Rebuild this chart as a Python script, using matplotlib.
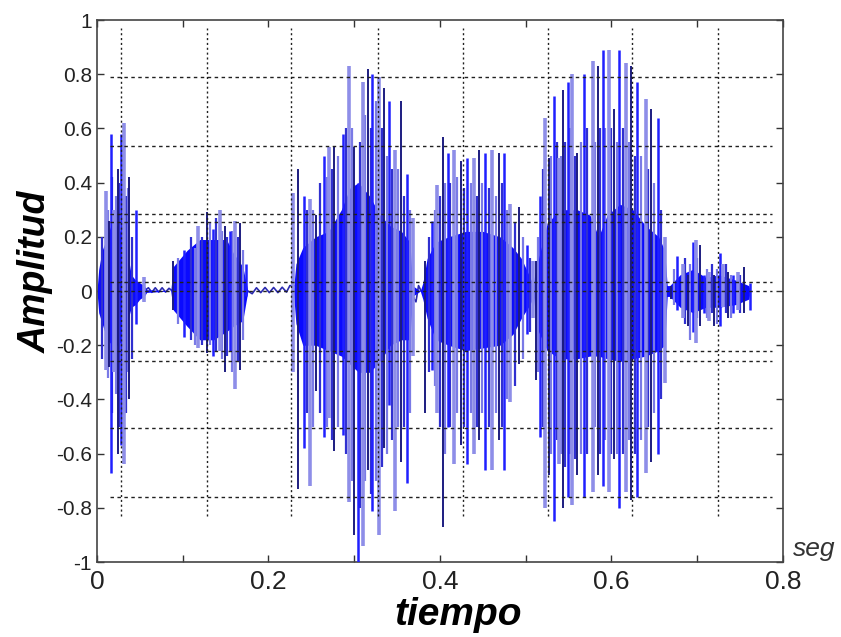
import numpy as np
import matplotlib
matplotlib.use("Agg")
import matplotlib.pyplot as plt

# --- data ----------------------------------------------------------------
# dense core of each voiced stretch: time, upper edge, lower edge
core_t = [0.000, 0.002, 0.006, 0.012, 0.018, 0.024, 0.030, 0.035, 0.040, 0.045, 0.050, 0.055, 0.058,
          0.086, 0.089, 0.105, 0.120, 0.136, 0.151, 0.159, 0.170, 0.176,
          0.229, 0.232, 0.240, 0.255, 0.270, 0.285, 0.295, 0.305, 0.318, 0.330, 0.342, 0.355, 0.365, 0.368,
          0.377, 0.380, 0.385, 0.395, 0.410, 0.430, 0.450, 0.470, 0.485, 0.495, 0.505, 0.509,
          0.510, 0.515, 0.525, 0.540, 0.560, 0.575, 0.585, 0.595, 0.610, 0.625, 0.640, 0.655, 0.662, 0.665,
          0.668, 0.680, 0.695, 0.710, 0.725, 0.745, 0.760, 0.762]
core_top = [0.0, 0.08, 0.15, 0.20, 0.26, 0.24, 0.20, 0.15, 0.06, 0.04, 0.03, 0.02, 0.005,
            0.0, 0.09, 0.15, 0.19, 0.19, 0.19, 0.14, 0.09, 0.0,
            0.0, 0.10, 0.16, 0.20, 0.22, 0.30, 0.38, 0.40, 0.35, 0.28, 0.24, 0.22, 0.18, 0.02,
            0.0, 0.03, 0.12, 0.18, 0.20, 0.22, 0.22, 0.20, 0.16, 0.12, 0.05, 0.02,
            0.05, 0.12, 0.25, 0.30, 0.30, 0.28, 0.20, 0.28, 0.32, 0.30, 0.24, 0.20, 0.15, 0.02,
            0.02, 0.06, 0.08, 0.05, 0.06, 0.04, 0.02, 0.0]
core_bot = [0.0, -0.08, -0.12, -0.18, -0.20, -0.20, -0.18, -0.12, -0.06, -0.05, -0.03, -0.02, -0.005,
            0.0, -0.07, -0.13, -0.18, -0.18, -0.15, -0.13, -0.11, 0.0,
            0.0, -0.12, -0.20, -0.20, -0.22, -0.24, -0.27, -0.30, -0.30, -0.26, -0.20, -0.18, -0.18, -0.02,
            0.0, -0.03, -0.10, -0.18, -0.20, -0.22, -0.21, -0.20, -0.16, -0.10, -0.05, -0.02,
            -0.05, -0.15, -0.22, -0.25, -0.25, -0.24, -0.24, -0.25, -0.26, -0.25, -0.24, -0.22, -0.20, -0.02,
            -0.02, -0.06, -0.08, -0.06, -0.06, -0.05, -0.03, 0.0]

# pitch-period spikes (the tall ones): time, peak, trough
spike_t = [0.0104, 0.0143, 0.0163, 0.020, 0.024, 0.028, 0.032, 0.0378, 0.0456, 0.0553,
           0.0885, 0.102, 0.118, 0.128, 0.135, 0.143, 0.149, 0.155, 0.161, 0.167, 0.174,
           0.229, 0.235, 0.242, 0.249, 0.256, 0.265, 0.271, 0.277, 0.287, 0.294, 0.300, 0.304,
           0.310, 0.316, 0.321, 0.329, 0.335, 0.341, 0.347, 0.354, 0.362, 0.368,
           0.383, 0.391, 0.397, 0.403, 0.409, 0.416, 0.424, 0.432, 0.440, 0.445, 0.453, 0.461,
           0.469, 0.475, 0.482, 0.492, 0.502, 0.509,
           0.512, 0.517, 0.523, 0.527, 0.533, 0.539, 0.543, 0.549, 0.554, 0.560, 0.568, 0.578,
           0.584, 0.590, 0.597, 0.603, 0.609, 0.617, 0.623, 0.630, 0.640, 0.646, 0.654, 0.662,
           0.669, 0.677, 0.683, 0.689, 0.695, 0.698, 0.703, 0.708, 0.714, 0.720, 0.726, 0.730,
           0.736, 0.742, 0.747, 0.755, 0.761]
spike_top = [0.37, 0.26, 0.58, 0.30, 0.45, 0.58, 0.62, 0.42, 0.30, 0.05,
             0.11, 0.15, 0.24, 0.29, 0.23, 0.30, 0.24, 0.22, 0.26, 0.25, 0.10,
             0.36, 0.45, 0.35, 0.34, 0.28, 0.50, 0.53, 0.53, 0.58, 0.83, 0.53, 0.40,
             0.77, 0.82, 0.80, 0.79, 0.75, 0.70, 0.52, 0.70, 0.43, 0.27,
             0.11, 0.26, 0.39, 0.57, 0.51, 0.52, 0.48, 0.49, 0.49, 0.52, 0.51, 0.52,
             0.51, 0.51, 0.32, 0.31, 0.17, 0.11,
             0.11, 0.35, 0.64, 0.49, 0.72, 0.49, 0.74, 0.77, 0.80, 0.51, 0.80, 0.85,
             0.83, 0.89, 0.89, 0.67, 0.89, 0.84, 0.83, 0.77, 0.71, 0.67, 0.64, 0.20,
             0.02, 0.13, 0.10, 0.06, 0.18, 0.19, 0.17, 0.06, 0.07, 0.06, 0.14, 0.10,
             0.07, 0.06, 0.07, 0.09, 0.03]
spike_bot = [-0.29, -0.28, -0.67, -0.30, -0.60, -0.57, -0.64, -0.40, -0.12, -0.04,
             -0.07, -0.17, -0.21, -0.23, -0.24, -0.22, -0.30, -0.22, -0.36, -0.29, -0.02,
             -0.30, -0.73, -0.58, -0.72, -0.37, -0.54, -0.47, -0.59, -0.53, -0.78, -0.90, -1.00,
             -0.94, -0.66, -0.81, -0.90, -0.58, -0.42, -0.81, -0.63, -0.71, -0.24,
             -0.45, -0.29, -0.45, -0.87, -0.50, -0.64, -0.57, -0.64, -0.60, -0.55, -0.66, -0.66,
             -0.55, -0.66, -0.41, -0.27, -0.16, -0.10,
             -0.33, -0.54, -0.80, -0.68, -0.85, -0.64, -0.80, -0.76, -0.79, -0.68, -0.76, -0.74,
             -0.68, -0.72, -0.74, -0.62, -0.80, -0.74, -0.77, -0.76, -0.67, -0.63, -0.60, -0.34,
             -0.03, -0.07, -0.10, -0.13, -0.15, -0.19, -0.13, -0.08, -0.11, -0.13, -0.13, -0.06,
             -0.10, -0.08, -0.07, -0.08, -0.07]

# shorter spikes packed between the tall ones
minor_t = [0.006, 0.013, 0.018, 0.022, 0.026, 0.030, 0.034, 0.036, 0.041,
           0.095, 0.110, 0.114, 0.122, 0.132, 0.139, 0.146, 0.152, 0.158, 0.164, 0.170,
           0.245, 0.252, 0.260, 0.268, 0.274, 0.281, 0.290, 0.297, 0.307, 0.313, 0.319,
           0.325, 0.332, 0.338, 0.344, 0.351, 0.358, 0.365,
           0.387, 0.394, 0.400, 0.406, 0.412, 0.420, 0.428, 0.436, 0.443, 0.449, 0.457,
           0.465, 0.472, 0.478, 0.487, 0.497, 0.505,
           0.514, 0.520, 0.530, 0.536, 0.541, 0.546, 0.552, 0.557, 0.564, 0.572, 0.581,
           0.587, 0.593, 0.600, 0.606, 0.613, 0.620, 0.627, 0.635, 0.643, 0.650, 0.658,
           0.673, 0.686, 0.692, 0.700, 0.711, 0.717, 0.723, 0.733, 0.739, 0.750]
minor_top = [0.20, 0.30, 0.42, 0.35, 0.40, 0.50, 0.35, 0.38, 0.20,
             0.12, 0.20, 0.16, 0.20, 0.25, 0.27, 0.22, 0.20, 0.22, 0.20, 0.15,
             0.30, 0.30, 0.40, 0.42, 0.45, 0.50, 0.60, 0.60, 0.55, 0.65, 0.60,
             0.70, 0.60, 0.50, 0.45, 0.45, 0.35, 0.30,
             0.20, 0.30, 0.35, 0.40, 0.40, 0.42, 0.38, 0.40, 0.35, 0.40, 0.38,
             0.35, 0.40, 0.30, 0.25, 0.20, 0.12,
             0.20, 0.45, 0.50, 0.55, 0.50, 0.55, 0.60, 0.50, 0.55, 0.60, 0.55,
             0.60, 0.60, 0.60, 0.55, 0.60, 0.55, 0.50, 0.50, 0.45, 0.40, 0.30,
             0.08, 0.12, 0.10, 0.12, 0.08, 0.10, 0.08, 0.10, 0.06, 0.06]
minor_bot = [-0.25, -0.32, -0.45, -0.38, -0.50, -0.55, -0.45, -0.30, -0.25,
             -0.12, -0.18, -0.20, -0.20, -0.20, -0.22, -0.25, -0.24, -0.30, -0.26, -0.18,
             -0.45, -0.50, -0.45, -0.50, -0.55, -0.50, -0.60, -0.70, -0.80, -0.70, -0.75,
             -0.70, -0.65, -0.60, -0.55, -0.50, -0.50, -0.45,
             -0.30, -0.35, -0.50, -0.60, -0.50, -0.45, -0.50, -0.45, -0.50, -0.45, -0.50,
             -0.45, -0.50, -0.40, -0.35, -0.25, -0.15,
             -0.30, -0.50, -0.60, -0.55, -0.60, -0.65, -0.60, -0.62, -0.60, -0.60, -0.50,
             -0.60, -0.55, -0.60, -0.60, -0.60, -0.55, -0.60, -0.55, -0.50, -0.45, -0.40,
             -0.05, -0.12, -0.18, -0.10, -0.10, -0.08, -0.12, -0.08, -0.10, -0.08]

# low-level ripple in the pauses
quiet_t = [0.055, 0.060, 0.064, 0.068, 0.072, 0.076, 0.080, 0.084, 0.088,
           0.176, 0.181, 0.186, 0.191, 0.196, 0.201, 0.206, 0.211, 0.216, 0.221, 0.225,
           0.366, 0.370, 0.372, 0.375, 0.378]
quiet_v = [0.0, 0.012, -0.005, 0.012, -0.004, 0.012, -0.004, 0.010, 0.0,
           0.0, -0.010, 0.012, -0.006, 0.013, -0.006, 0.013, -0.006, 0.014, -0.004, 0.020,
           0.0, -0.030, -0.040, 0.020, 0.0]

# hand-placed dotted grid
grid_x = [0.028, 0.128, 0.226, 0.328, 0.427, 0.526, 0.624, 0.724]
grid_y = [0.79, 0.535, 0.284, 0.255, 0.033, 0.0, -0.22, -0.26, -0.506, -0.76]

xtick_vals = [0.0, 0.1, 0.2, 0.3, 0.4, 0.5, 0.6, 0.7, 0.8]
xtick_labels = ['0', '', '0.2', '', '0.4', '', '0.6', '', '0.8']
ytick_vals = [1, 0.8, 0.6, 0.4, 0.2, 0, -0.2, -0.4, -0.6, -0.8, -1]
ytick_labels = ['1', '0.8', '0.6', '0.4', '0.2', '0', '-0.2', '-0.4', '-0.6', '-0.8', '-1']


def main():
    plt.rcParams['font.family'] = ['Liberation Sans', 'DejaVu Sans']
    fig = plt.figure(figsize=(8.41, 6.37), dpi=100)
    ax = fig.add_axes([0.1153, 0.1177, 0.8157, 0.8509])

    # waveform: quiet ripple, dense core, short spikes, then the tall spikes
    ax.plot(quiet_t, quiet_v, color='#2a2ab0', lw=1.2, zorder=2)
    ax.fill_between(core_t, core_bot, core_top, color='#0a0aff', lw=0, zorder=2)
    minor_colors = ['#3030d0', '#7a7ae6']
    for i, (t, hi, lo) in enumerate(zip(minor_t, minor_top, minor_bot)):
        ax.vlines(t, lo, hi, color=minor_colors[i % 2], lw=1.6, zorder=2.5)
    colors = ['#8e8ee8', '#1c1c80', '#2020ff']
    widths = [2.6, 1.4, 1.8]
    for i, (t, hi, lo) in enumerate(zip(spike_t, spike_top, spike_bot)):
        ax.vlines(t, lo, hi, color=colors[i % 3], lw=widths[i % 3], zorder=3)

    # dotted grid drawn over the signal
    ax.vlines(grid_x, -0.83, 0.97, color='#202020', lw=1.0,
              linestyles=(0, (1.5, 2.0)), zorder=4)
    ax.hlines(grid_y, 0.015, 0.787, color='#202020', lw=1.0,
              linestyles=(0, (2.5, 2.5)), zorder=4)

    ax.set_xlim(0, 0.8)
    ax.set_ylim(-1, 1)
    ax.set_xticks(xtick_vals)
    ax.set_xticklabels(xtick_labels, fontsize=19, color='#222222')
    ax.set_yticks(ytick_vals)
    ax.set_yticklabels(ytick_labels, fontsize=15, color='#222222')
    ax.tick_params(direction='in', length=5, width=1, top=True, right=True,
                   color='#333333')
    ax.tick_params(axis='x', pad=6)
    for sp in ax.spines.values():
        sp.set_color('#444444')
        sp.set_linewidth(1.2)

    fig.text(0.042, 0.573, 'Amplitud', rotation=90, fontsize=27,
             fontweight='bold', fontstyle='italic', ha='center', va='center')
    fig.text(0.545, 0.034, 'tiempo', fontsize=28, fontweight='bold',
             fontstyle='italic', ha='center', va='center')
    fig.text(0.968, 0.138, 'seg', fontsize=19, fontstyle='italic',
             color='#333333', ha='center', va='center')

    fig.savefig('out.png', dpi=100)


if __name__ == "__main__":
    main()
